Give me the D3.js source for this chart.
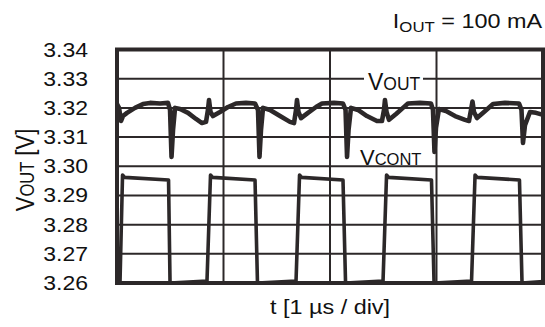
<!DOCTYPE html>
<html>
<head>
<meta charset="utf-8">
<script src="https://cdn.jsdelivr.net/npm/d3@7"></script>
<style>
  body { margin: 0; background: #fff; }
  svg { display: block; font-family: Arial, "Liberation Sans", sans-serif; }
</style>
</head>
<body>
<svg id="chart"></svg>
<script>
// time in µs (1 µs / div), voltages in V
const yTicks = [3.26, 3.27, 3.28, 3.29, 3.30, 3.31, 3.32, 3.33, 3.34];
const xDivs = [0, 1, 2, 3, 4];

const voutT = [0, 0.019, 0.038, 0.056, 0.094, 0.169, 0.244, 0.310, 0.404, 0.479, 0.498, 0.512, 0.526, 0.545,
  0.592, 0.667, 0.742, 0.798, 0.836, 0.854, 0.864, 0.878, 0.901, 0.967, 1.042, 1.117, 1.211, 1.296,
  1.324, 1.338, 1.352, 1.371, 1.437, 1.531, 1.624, 1.662, 1.681, 1.690, 1.704, 1.728, 1.793, 1.869,
  1.925, 2.038, 2.122, 2.146, 2.160, 2.174, 2.197, 2.263, 2.347, 2.441, 2.488, 2.507, 2.516, 2.531,
  2.554, 2.620, 2.685, 2.732, 2.845, 2.948, 2.967, 2.981, 2.995, 3.023, 3.089, 3.174, 3.268, 3.305,
  3.324, 3.338, 3.352, 3.380, 3.446, 3.531, 3.643, 3.775, 3.798, 3.812, 3.831, 3.878, 3.934, 4.0];
const voutV = [3.3213, 3.3200, 3.3155, 3.3172, 3.3183, 3.3200, 3.3213, 3.3217, 3.3215, 3.3217, 3.3193, 3.3032, 3.3124, 3.3200,
  3.3196, 3.3183, 3.3162, 3.3148, 3.3152, 3.3193, 3.3227, 3.3186, 3.3172, 3.3186, 3.3203, 3.3215, 3.3217, 3.3215,
  3.3193, 3.3032, 3.3124, 3.3200, 3.3193, 3.3172, 3.3152, 3.3148, 3.3193, 3.3227, 3.3186, 3.3165, 3.3183, 3.3203,
  3.3215, 3.3217, 3.3215, 3.3193, 3.3032, 3.3124, 3.3200, 3.3193, 3.3172, 3.3155, 3.3155, 3.3193, 3.3227, 3.3186,
  3.3159, 3.3179, 3.3200, 3.3215, 3.3217, 3.3215, 3.3193, 3.3049, 3.3131, 3.3196, 3.3189, 3.3172, 3.3159, 3.3155,
  3.3193, 3.3222, 3.3186, 3.3165, 3.3186, 3.3213, 3.3217, 3.3215, 3.3193, 3.3080, 3.3141, 3.3186, 3.3183, 3.3176];

const contT = [0, 0.028, 0.052, 0.072, 0.484, 0.498, 0.845, 0.878, 0.898, 1.296, 1.319, 1.681, 1.714, 1.734,
  2.122, 2.146, 2.498, 2.531, 2.551, 2.953, 2.977, 3.329, 3.362, 3.382, 3.779, 3.803, 4.0];
const contV = [3.2600, 3.2600, 3.2970, 3.2962, 3.2953, 3.2600, 3.2607, 3.2970, 3.2962, 3.2953, 3.2600, 3.2607, 3.2970, 3.2962,
  3.2953, 3.2600, 3.2607, 3.2970, 3.2962, 3.2953, 3.2600, 3.2607, 3.2970, 3.2962, 3.2953, 3.2600, 3.2605];

const width = 545, height = 327;
const margin = { top: 49.5, right: 2, bottom: 44, left: 117 };
const ink = '#2c2829';

const svg = d3.select('#chart').attr('width', width).attr('height', height);

const x = d3.scaleLinear().domain([0, 4]).range([margin.left, width - margin.right]);
const y = d3.scaleLinear().domain([3.26, 3.34]).range([height - margin.bottom, margin.top]);

svg.append('defs').append('clipPath').attr('id', 'plot')
  .append('rect')
  .attr('x', x(0)).attr('y', y(3.34))
  .attr('width', x(4) - x(0)).attr('height', y(3.26) - y(3.34));

// grid
const grid = svg.append('g').attr('stroke', ink).attr('stroke-width', 2);
grid.selectAll('.h').data(yTicks.slice(1, -1)).join('line')
  .attr('x1', x(0)).attr('x2', x(4))
  .attr('y1', d => y(d)).attr('y2', d => y(d));
grid.selectAll('.v').data(xDivs.slice(1, -1)).join('line')
  .attr('y1', y(3.34)).attr('y2', y(3.26))
  .attr('x1', d => x(d)).attr('x2', d => x(d));

// in-plot labels with white backing
const lab = svg.append('g').attr('fill', '#111');
lab.append('rect').attr('x', 364).attr('y', 70).attr('width', 59).attr('height', 22).attr('fill', '#fff');
const lo = lab.append('text').attr('x', 368).attr('y', 90);
lo.append('tspan').attr('font-size', 23).text('V');
lo.append('tspan').attr('font-size', 17.5).text('OUT');
lab.append('rect').attr('x', 357).attr('y', 145).attr('width', 68).attr('height', 19.5).attr('fill', '#fff');
const lc = lab.append('text').attr('x', 360).attr('y', 165);
lc.append('tspan').attr('font-size', 22).text('V');
lc.append('tspan').attr('font-size', 16.5).text('CONT');

// traces
const line = d3.line().x(d => x(d[0])).y(d => y(d[1]));
const traces = svg.append('g').attr('clip-path', 'url(#plot)')
  .attr('fill', 'none').attr('stroke', ink).attr('stroke-linejoin', 'round');
traces.append('path')
  .attr('d', line(d3.zip(voutT, voutV)))
  .attr('stroke-width', 4.6);
traces.append('path')
  .attr('d', line(d3.zip(contT, contV)))
  .attr('stroke-width', 3.6);

// frame
svg.append('rect')
  .attr('x', x(0)).attr('y', y(3.34))
  .attr('width', x(4) - x(0)).attr('height', y(3.26) - y(3.34))
  .attr('fill', 'none').attr('stroke', ink).attr('stroke-width', 4);

// y tick labels
svg.append('g').selectAll('text').data(yTicks).join('text')
  .attr('transform', d => `translate(88,${y(d) + 7}) scale(1.18,1)`)
  .attr('text-anchor', 'end')
  .attr('font-size', 19.5)
  .attr('fill', '#111')
  .text(d => d.toFixed(2));

// axis titles
const yt = svg.append('text')
  .attr('transform', 'translate(34,170) rotate(-90) scale(1,1.2)')
  .attr('text-anchor', 'middle').attr('fill', '#111');
yt.append('tspan').attr('font-size', 22).text('V');
yt.append('tspan').attr('font-size', 16.5).text('OUT');
yt.append('tspan').attr('font-size', 22).text(' [V]');

svg.append('text')
  .attr('transform', 'translate(330,314) scale(1.2,1)')
  .attr('text-anchor', 'middle').attr('font-size', 19.5).attr('fill', '#111')
  .text('t [1 µs / div]');

const it = svg.append('text')
  .attr('transform', 'translate(542,28) scale(1.2,1)')
  .attr('text-anchor', 'end').attr('fill', '#111');
it.append('tspan').attr('font-size', 19.5).text('I');
it.append('tspan').attr('font-size', 14).attr('dy', 4).text('OUT');
it.append('tspan').attr('font-size', 19.5).attr('dy', -4).text(' = 100 mA');
</script>
</body>
</html>
